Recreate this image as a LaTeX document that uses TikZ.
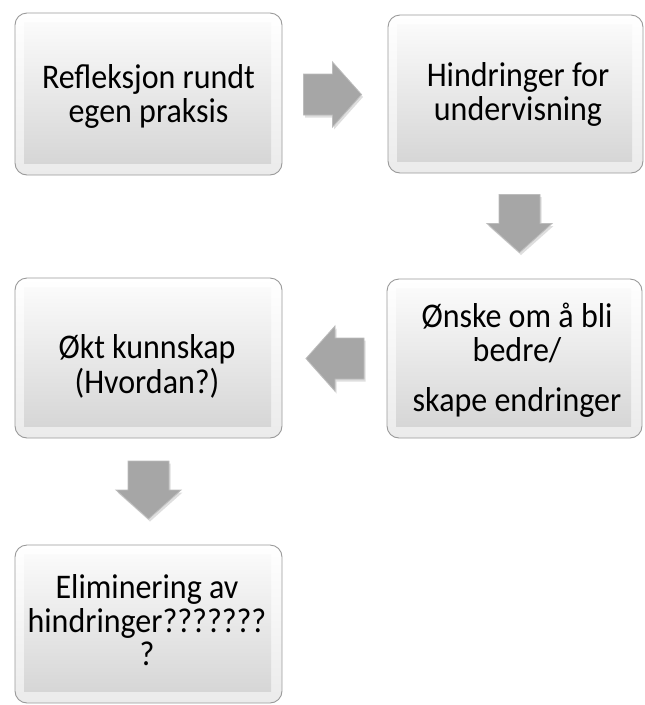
\documentclass[tikz,border=0pt]{standalone}
\usepackage{fontspec}
\setmainfont{Carlito}
\usetikzlibrary{backgrounds}
\definecolor{cardedge}{HTML}{9A9A9A}
\definecolor{rimtop}{HTML}{FFFFFF}
\definecolor{rimbot}{HTML}{EBEBEB}
\definecolor{facetop}{HTML}{FDFDFD}
\definecolor{facebot}{HTML}{D3D3D3}
\definecolor{arrowfill}{HTML}{A6A6A6}
\definecolor{arrowedge}{HTML}{BCBCBC}
\tikzset{
  card/.style={draw=cardedge, line width=0.9pt, rounded corners=12pt,
    top color=rimtop, bottom color=rimbot, inner sep=0pt,
    path picture={\fill[sharp corners, top color=facetop, bottom color=facebot]
      ([shift={(9pt,-9pt)}]path picture bounding box.north west) rectangle
      ([shift={(-11pt,12pt)}]path picture bounding box.south east);}},
  cardtext/.style={font=\fontsize{32}{31}\selectfont, anchor=base, inner sep=0pt},
  blockarrow/.style={fill=arrowfill, draw=arrowedge, line width=0.8pt, line join=miter},
  arrowshadow/.style={fill=black, opacity=0.13},
}
\newcommand\ctext[1]{\scalebox{1}[1.08]{\begin{tabular}[t]{@{}c@{}}#1\end{tabular}}}
\newcommand\barrow[2]{%
  \fill[arrowshadow, shift={(#1)}, shift={(1.5pt,-2.5pt)}, rotate=#2]
    (-29pt,-20.5pt) -- (0pt,-20.5pt) -- (0pt,-32.5pt) -- (29pt,0pt) -- (0pt,32.5pt) -- (0pt,20.5pt) -- (-29pt,20.5pt) -- cycle;
  \filldraw[blockarrow, shift={(#1)}, rotate=#2]
    (-29pt,-20.5pt) -- (0pt,-20.5pt) -- (0pt,-32.5pt) -- (29pt,0pt) -- (0pt,32.5pt) -- (0pt,20.5pt) -- (-29pt,20.5pt) -- cycle;}
\begin{document}
\begin{tikzpicture}[x=1pt, y=-1pt]
\useasboundingbox[fill=white] (0,0) rectangle (645,705);
% boxes
\node[card, minimum width=267pt, minimum height=162pt] (b1) at (148.5,94) {};
\node[card, minimum width=255pt, minimum height=158pt] (b2) at (515.5,94) {};
\node[card, minimum width=255pt, minimum height=159pt] (b3) at (514.5,358.5) {};
\node[card, minimum width=267pt, minimum height=160pt] (b4) at (148.5,358) {};
\node[card, minimum width=267pt, minimum height=158pt] (b5) at (148.5,624) {};
% shadows
\begin{pgfonlayer}{background}
\foreach \n in {b1,b2,b3,b4,b5}{
  \foreach \s in {1,...,5}{
    \fill[black, opacity=0.035, rounded corners=13pt]
      ([xshift={-0.7pt*\s}, yshift=-3pt]\n.north west) rectangle
      ([xshift={0.7pt*\s}, yshift={-1pt-1.5pt*\s}]\n.south east);
  }
}
\end{pgfonlayer}
% texts
\node[cardtext] (t1) at (148.5,88) {\ctext{Refleksjon rundt\\egen praksis}};
\node[cardtext] (t2) at (518,86.7) {\ctext{Hindringer for\\undervisning}};
\node[cardtext] (t3) at (517,327) {\ctext{Ønske om å bli\\bedre/\\[15pt]skape endringer}};
\node[cardtext] (t4) at (147,358) {\ctext{Økt kunnskap\\(Hvordan?)}};
\node[cardtext] (t5) at (147,598) {\ctext{Eliminering av\\hindringer???????\\?}};
% arrows
\coordinate (a1) at (332.5,94.5);
\coordinate (a2) at (519.5,223.5);
\coordinate (a3) at (335,358.5);
\coordinate (a4) at (148.5,490);
\barrow{a1}{0}
\barrow{a2}{-90}
\barrow{a3}{180}
\barrow{a4}{-90}
\end{tikzpicture}
\end{document}
